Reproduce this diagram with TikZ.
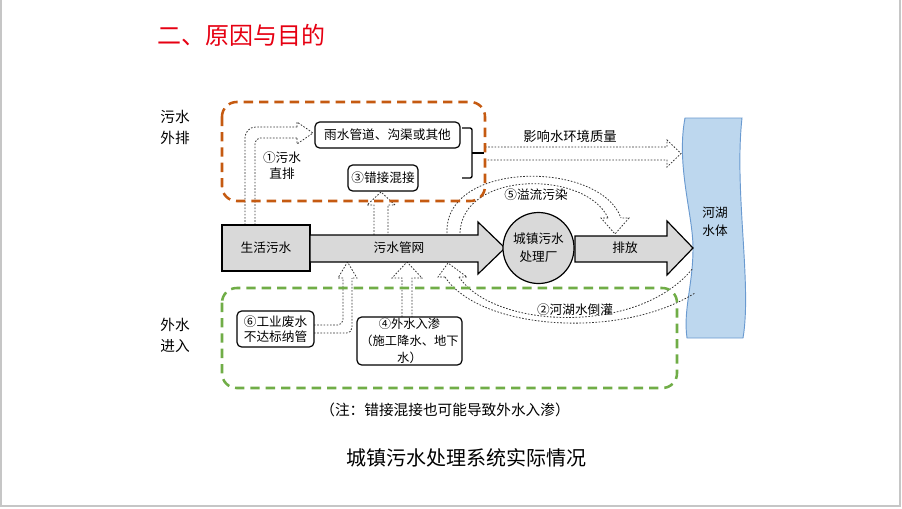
\documentclass[tikz,border=0pt]{standalone}
\usepackage{fontspec}
\setmainfont{Noto Sans CJK SC}
\definecolor{orangeC}{HTML}{C55A11}
\definecolor{greenC}{HTML}{70AD47}
\definecolor{riverfill}{HTML}{BDD7EE}
\definecolor{riverline}{HTML}{6A9AD0}
\definecolor{boxgray}{HTML}{D9D9D9}
\definecolor{titlered}{HTML}{E60012}
\tikzset{
  lbl/.style={font=\fontsize{9.5}{13}\selectfont, inner sep=0pt, align=center},
  sidelbl/.style={font=\fontsize{11}{14}\selectfont, inner sep=0pt},
  whitebox/.style={draw=black, line width=0.9pt, rounded corners=3.5pt, fill=white, inner sep=0pt, align=center, font=\fontsize{9.5}{12.5}\selectfont},
  graybox/.style={draw=black, line width=0.9pt, fill=boxgray, inner sep=0pt, font=\fontsize{9.5}{12}\selectfont},
  arrowshape/.style={draw=black, line width=0.9pt, fill=boxgray, line join=miter},
  dotline/.style={draw=black!80, line width=0.6pt, dash pattern=on 1.2pt off 1.2pt},
  orangebox/.style={draw=orangeC, line width=1.9pt, dash pattern=on 7pt off 4.5pt, rounded corners=11pt},
  greenbox/.style={draw=greenC, line width=1.9pt, dash pattern=on 7pt off 4.5pt, rounded corners=11pt},
  river/.style={draw=riverline, line width=0.7pt, fill=riverfill}
}
\begin{document}
\begin{tikzpicture}[x=0.75pt,y=-0.75pt]
\useasboundingbox (0,0) rectangle (902,508);
% slide frame
\draw[gray!45, line width=0.8pt] (1,0) -- (1,506) -- (900,506) -- (900,0);

% title
\node[font=\fontsize{18}{20}\selectfont, text=titlered, inner sep=0pt] (title) at (241,35) {二、原因与目的};

% river
\draw[river] (685,118) .. controls (676,165) and (693,215) .. (693,248)
  .. controls (693,285) and (683,310) .. (687,338) -- (743,338)
  .. controls (752,285) and (734,190) .. (742,118) -- cycle;
\node[lbl] (riverA) at (715,213) {河湖};
\node[lbl] (riverB) at (715,231) {水体};

% ---- dotted hollow arrows ----
% (1) direct discharge
\draw[dotline, rounded corners=8pt] (245,225) -- (245,127) -- (297,127);
\draw[dotline, rounded corners=4pt] (255,225) -- (255,138) -- (297,138);
\draw[dotline] (297,127) -- (297,122) -- (313,133) -- (297,144) -- (297,138);
% to (3)
\draw[dotline] (374,235) -- (374,205) -- (367,205) -- (381,192) -- (395,205) -- (388,205) -- (388,235);
% from (6)
\draw[dotline, rounded corners=4pt] (314,325) -- (343,325) -- (343,278);
\draw[dotline, rounded corners=4pt] (314,333) -- (352,333) -- (352,278);
\draw[dotline] (343,278) -- (338,278) -- (347.5,262) -- (357,278) -- (352,278);
% from (4)
\draw[dotline] (402,317) -- (402,278) -- (392,278) -- (407,262) -- (422,278) -- (412,278) -- (412,317);
% affect water quality
\draw[dotline] (485,147) -- (667,147) -- (667,140) -- (681,153.5) -- (667,167) -- (667,160) -- (485,160);
% (5) overflow
\draw[dotline] (447,233) .. controls (444,160) and (600,160) .. (621,218);
\draw[dotline] (460,233) .. controls (462,170) and (586,170) .. (608,218);
\draw[dotline] (608,218) -- (601,218) -- (615,234) -- (629,218) -- (621,218);
% (2) backflow
\draw[dotline] (445,277) .. controls (480,330) and (620,340) .. (695,293);
\draw[dotline] (459,277) .. controls (495,330) and (640,335) .. (693,268);
\draw[dotline] (445,277) -- (438,277) -- (448,263) -- (467,277) -- (459,277);

% ---- dashed groups ----
\draw[orangebox] (222,102) rectangle (485,201);
\draw[greenbox] (222,288) rectangle (677,388);

% ---- main flow ----
\node[graybox, minimum width=66pt, minimum height=34.5pt] (src) at (266,248) {生活污水};
\draw[arrowshape] (310,235) -- (478,235) -- (478,222) -- (505,248) -- (478,274) -- (478,262) -- (310,262) -- cycle;
\node[lbl] (pipe) at (399,248) {污水管网};
\node[circle, draw=black, line width=0.9pt, fill=boxgray, minimum size=53.25pt, inner sep=0pt] (plant) at (538.5,248) {};
\node[lbl] (plantA) at (538.5,239) {城镇污水};
\node[lbl] (plantB) at (538.5,257) {处理厂};
\draw[arrowshape] (575,236) -- (667,236) -- (667,221) -- (693,248) -- (667,275) -- (667,262) -- (575,262) -- cycle;
\node[lbl] (out) at (625,248) {排放};

% ---- boxes ----
\node[whitebox, minimum width=108.75pt, minimum height=19.5pt] (rain) at (387.5,135) {雨水管道、沟渠或其他};
\node[whitebox, minimum width=52.5pt, minimum height=19.5pt] (mis) at (383,178) {③错接混接};
\node[whitebox, minimum width=57.75pt, minimum height=27pt, font=\fontsize{9.5}{11.5}\selectfont] (ind) at (275.5,329) {⑥工业废水\\不达标纳管};
\node[whitebox, minimum width=78.75pt, minimum height=36pt, font=\fontsize{9.2}{12.5}\selectfont] (inf) at (409.5,341) {④外水入渗\\（施工降水、地下\\水）};

% bracket
\draw[line width=1pt, rounded corners=1.5pt] (462,128) -- (472,128) -- (472,178) -- (462,178);
\draw[line width=1pt] (472,153) -- (484,153);

% ---- labels ----
\node[lbl] (l1a) at (282,158) {①污水};
\node[lbl] (l1b) at (282,174) {直排};
\node[lbl, font=\fontsize{10}{12}\selectfont] (effect) at (570,136) {影响水环境质量};
\node[lbl] (l5) at (536,195) {⑤溢流污染};
\node[lbl] (l2) at (575,310) {②河湖水倒灌};
\node[sidelbl] (outA) at (175,117) {污水};
\node[sidelbl] (outB) at (175,138) {外排};
\node[sidelbl] (inA) at (175,325) {外水};
\node[sidelbl] (inB) at (175,346) {进入};
\node[font=\fontsize{11}{13}\selectfont, inner sep=0pt] (note) at (445,410) {（注：错接混接也可能导致外水入渗）};
\node[font=\fontsize{15}{17}\selectfont, inner sep=0pt] (caption) at (466,458) {城镇污水处理系统实际情况};
\end{tikzpicture}
\end{document}
